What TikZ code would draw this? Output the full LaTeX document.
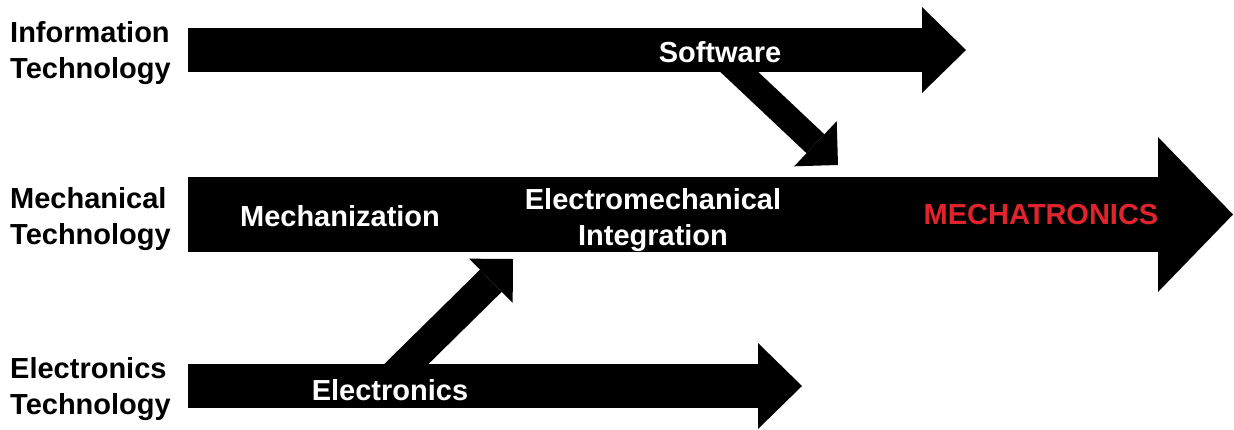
\documentclass[tikz,border=0pt]{standalone}
\usepackage{fontspec}
\setmainfont{Liberation Sans}
\usetikzlibrary{arrows.meta}
\definecolor{mechred}{RGB}{225,35,45}

\begin{document}
\begin{tikzpicture}[x=1pt,y=-1pt,
		techlabel/.style={anchor=west,align=left,inner sep=0pt,font=\fontsize{29}{36}\selectfont\bfseries},
		stagelabel/.style={text=white,align=center,inner sep=0pt,font=\fontsize{29}{36}\selectfont\bfseries},
		thinband/.style={line width=44pt,-{Triangle[length=44pt,width=86pt,line width=0pt]}},
		wideband/.style={line width=75pt,-{Triangle[length=75pt,width=155pt,line width=0pt]}},
		feedarrow/.style={line width=26pt,-{Triangle[length=31pt,width=62pt,line width=0pt]}}]
		\useasboundingbox (0,0) rectangle (1234,429);
		% Entwicklungslinien
		\coordinate (itstart) at (188,50);
		\coordinate (itend) at (966,50);
		\coordinate (mtstart) at (188,214.5);
		\coordinate (mtend) at (1233,214.5);
		\coordinate (etstart) at (188,386);
		\coordinate (etend) at (802,386);
		\draw[thinband] (itstart) -- (itend);
		\draw[wideband] (mtstart) -- (mtend);
		\draw[thinband] (etstart) -- (etend);
		% Zufluss von Software und Elektronik
		\coordinate (swfrom) at (716,50);
		\coordinate (swto) at (838,165);
		\coordinate (elfrom) at (384,386);
		\coordinate (elto) at (513,259);
		\draw[feedarrow] (swfrom) -- (swto);
		\draw[feedarrow,line width=31pt] (elfrom) -- (elto);
		% Labels links
		\node[techlabel] (it) at (10,53) {Information\\Technology};
		\node[techlabel] (mt) at (10,219) {Mechanical\\Technology};
		\node[techlabel] (et) at (10,389) {Electronics\\Technology};
		% Labels in den Pfeilen
		\node[stagelabel] (software) at (720,52) {Software};
		\node[stagelabel] (mechanization) at (340,216) {Mechanization};
		\node[stagelabel] (integration) at (653,220) {Electromechanical\\Integration};
		\node[stagelabel,text=mechred] (mechatronics) at (1041,215) {MECHATRONICS};
		\node[stagelabel] (electronics) at (390,390) {Electronics};
	\end{tikzpicture}
\end{document}
